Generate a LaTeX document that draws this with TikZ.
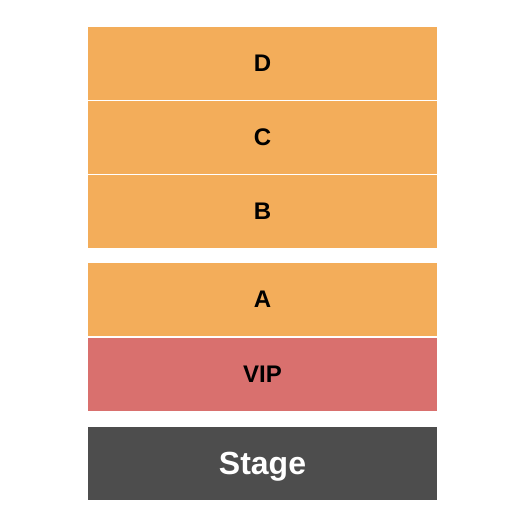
\documentclass[tikz,border=0pt]{standalone}
\usepackage{fontspec}
\setmainfont{Liberation Sans}
\definecolor{seatorange}{HTML}{F3AD5A}
\definecolor{seatvip}{HTML}{D9706E}
\definecolor{stagegrey}{HTML}{4D4D4D}

\begin{document}
\begin{tikzpicture}[x=1pt,y=-1pt,
    sect/.style={fill=seatorange,minimum width=349pt,minimum height=73pt,
      inner sep=0pt,outer sep=0pt,font=\fontsize{24}{24}\selectfont\bfseries},
    stagebox/.style={sect,fill=stagegrey,text=white,text depth=0pt,
      font=\fontsize{32}{32}\selectfont\bfseries}]
    \useasboundingbox (0,0) rectangle (525,525);
    % upper block
    \foreach \lab/\y in {D/63,C/137,B/211}
    \node[sect] (\lab) at (262.5,\y) {\lab};
    % lower block
    \node[sect] (A) at (262.5,299.5) {A};
    \node[sect,fill=seatvip] (VIP) at (262.5,374) {VIP};
    \node[stagebox] (stage) at (262.5,463) {Stage};
  \end{tikzpicture}
\end{document}
